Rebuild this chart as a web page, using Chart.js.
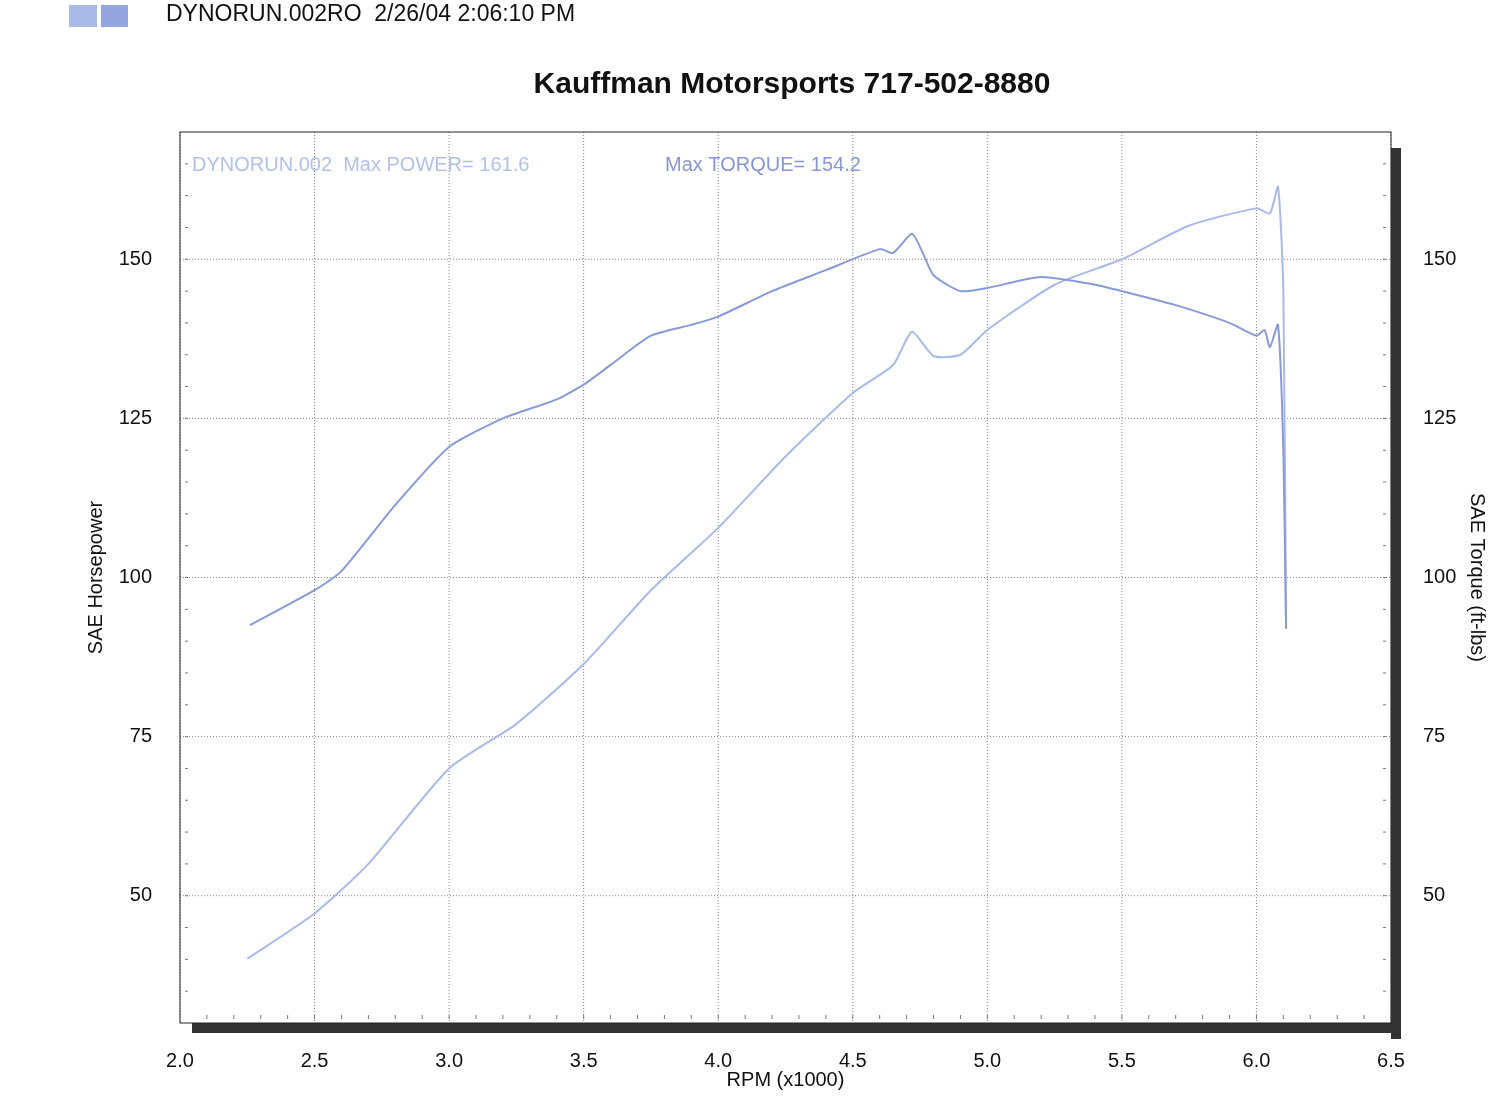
<!DOCTYPE html>
<html><head><meta charset="utf-8">
<script src="https://cdn.jsdelivr.net/npm/chart.js@4"></script>
<style>html,body{margin:0;padding:0;background:#fff}#c{display:block}</style>
</head><body>
<div style="width:1495px;height:1096px"><canvas id="c"></canvas></div>
<script>
const torqueRpm = [2.26,2.5,2.6,2.8,3.0,3.2,3.4,3.5,3.6,3.75,3.9,4.0,4.2,4.4,4.6,4.65,4.72,4.76,4.8,4.9,5.0,5.2,5.4,5.5,5.7,5.9,6.0,6.03,6.05,6.08,6.1,6.11];
const torqueVal = [92.5,98,101,111.4,120.5,125,128,130.3,133.4,138,139.7,141,145,148.3,151.6,151,154,151,147.5,145,145.5,147.2,146,145,142.8,140,138,138.9,136.2,139.7,120,92];
const powerRpm = [2.25,2.5,2.7,3.0,3.25,3.5,3.75,4.0,4.25,4.5,4.65,4.72,4.8,4.9,5.0,5.25,5.5,5.75,6.0,6.05,6.08,6.1,6.11];
const powerVal = [40.1,47.2,55,70,77,86.4,98,107.8,119,129,133.4,138.6,134.8,135,138.9,146,150,155.3,158,157.2,161.4,145,92];
const xTicks = [2.0,2.5,3.0,3.5,4.0,4.5,5.0,5.5,6.0,6.5];
const yTicks = [50,75,100,125,150];

const pts=(xs,ys)=>xs.map((x,i)=>({x,y:ys[i]}));
const F='"Liberation Sans", Arial';
const deco={id:'deco',
 beforeDatasetsDraw(ch){const {ctx,chartArea:a,scales}=ch;ctx.save();
  ctx.fillStyle='#333';ctx.fillRect(a.right,a.top+16,10,a.bottom-a.top);ctx.fillRect(a.left+12,a.bottom,a.right-a.left-2,10);
  ctx.fillStyle='#fff';ctx.fillRect(a.left,a.top,a.right-a.left,a.bottom-a.top);
  ctx.strokeStyle='#888';ctx.lineWidth=1;ctx.setLineDash([1,2]);
  xTicks.forEach(t=>{const x=scales.x.getPixelForValue(t);ctx.beginPath();ctx.moveTo(x,a.top);ctx.lineTo(x,a.bottom);ctx.stroke();});
  yTicks.forEach(t=>{const y=scales.y.getPixelForValue(t);ctx.beginPath();ctx.moveTo(a.left,y);ctx.lineTo(a.right,y);ctx.stroke();});
  ctx.setLineDash([]);
  ctx.strokeStyle='#777';
  for(let v=35;v<170;v+=5){const y=scales.y.getPixelForValue(v);ctx.beginPath();ctx.moveTo(a.left+5,y);ctx.lineTo(a.left+8,y);ctx.moveTo(a.right-8,y);ctx.lineTo(a.right-5,y);ctx.stroke();}
  for(let v=2.1;v<6.5;v+=0.1){const x=scales.x.getPixelForValue(v);ctx.beginPath();ctx.moveTo(x,a.bottom-8);ctx.lineTo(x,a.bottom-4);ctx.stroke();}
  ctx.strokeStyle='#222';ctx.lineWidth=1;ctx.strokeRect(a.left,a.top,a.right-a.left,a.bottom-a.top);
  ctx.restore();},
 afterDraw(ch){const {ctx}=ch;ctx.save();
  ctx.fillStyle='#aabbe8';ctx.fillRect(69,5,28,22);ctx.fillStyle='#93a5de';ctx.fillRect(101,5,27,22);
  ctx.fillStyle='#111';ctx.font='23px '+F;ctx.textBaseline='middle';
  ctx.fillText('DYNORUN.002RO  2/26/04 2:06:10 PM',166,15);
  ctx.font='bold 30px '+F;ctx.textAlign='center';ctx.fillText('Kauffman Motorsports 717-502-8880',792,85);
  ctx.textAlign='left';ctx.font='20px '+F;
  ctx.fillStyle='#b3c1ea';ctx.fillText('DYNORUN.002  Max POWER= 161.6',192,165);
  ctx.fillStyle='#8797d6';ctx.fillText('Max TORQUE= 154.2',665,165);
  ctx.restore();}};

new Chart(document.getElementById('c'),{type:'scatter',
 data:{datasets:[
  {label:'Torque',data:pts(torqueRpm,torqueVal),showLine:true,borderColor:'#8a9ad8',borderWidth:2,pointRadius:0,tension:0.2,yAxisID:'y'},
  {label:'Power',data:pts(powerRpm,powerVal),showLine:true,borderColor:'#a9b9ea',borderWidth:2,pointRadius:0,tension:0.2,yAxisID:'y'}]},
 options:{responsive:true,maintainAspectRatio:false,animation:false,
  layout:{padding:{left:80,right:2,top:132,bottom:0}},
  plugins:{legend:{display:false},tooltip:{enabled:false}},
  scales:{
   x:{type:'linear',min:2,max:6.5,afterBuildTicks:s=>{s.ticks=xTicks.map(v=>({value:v}));},afterFit:s=>{s.height=73;},
      grid:{display:false},border:{display:false},
      ticks:{color:'#111',font:{size:20,family:F},padding:18,callback:v=>v.toFixed(1)},
      title:{display:true,text:'RPM (x1000)',color:'#111',font:{size:20,family:F},padding:{top:2}}},
   y:{position:'left',min:30,max:170,afterBuildTicks:s=>{s.ticks=yTicks.map(v=>({value:v}));},afterFit:s=>{s.width=100;},
      grid:{display:false},border:{display:false},
      ticks:{color:'#111',font:{size:20,family:F},padding:20},
      title:{display:true,text:'SAE Horsepower',color:'#111',font:{size:20,family:F},padding:{bottom:14}}},
   y2:{position:'right',min:30,max:170,afterBuildTicks:s=>{s.ticks=yTicks.map(v=>({value:v}));},afterFit:s=>{s.width=102;},
      grid:{display:false},border:{display:false},
      ticks:{color:'#111',font:{size:20,family:F},padding:24},
      title:{display:true,text:'SAE Torque (ft-lbs)',color:'#111',font:{size:20,family:F}}}}},
 plugins:[deco]});
</script></body></html>
